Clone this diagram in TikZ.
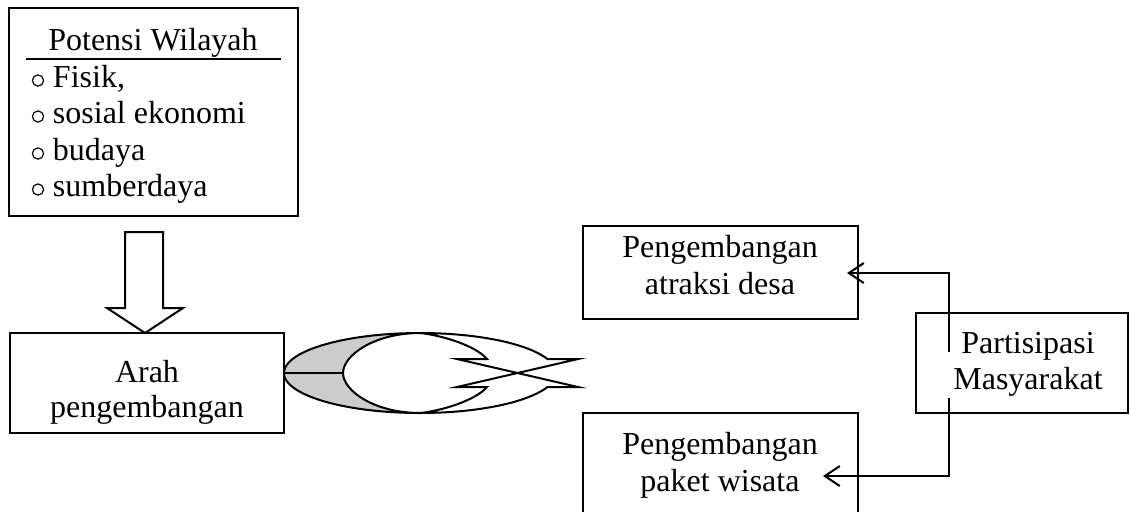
\documentclass[tikz,border=0pt]{standalone}
\usepackage{fontspec}
\setmainfont{Liberation Serif}
\usetikzlibrary{arrows.meta}
\begin{document}
\begin{tikzpicture}[x=0.5pt,y=-0.5pt,line width=1pt,
  box/.style={draw,line width=1pt,inner sep=0pt,outer sep=0pt},
  txt/.style={anchor=base,inner sep=0pt,outer sep=0pt,font=\fontsize{16}{18}\selectfont},
  bul/.style={circle,draw,line width=0.6pt,inner sep=0pt,minimum size=5.6pt},
  conn/.style={line width=1pt,-{Straight Barb[length=7.5pt,width=10pt,line width=1pt]}}]
\useasboundingbox (0,0) rectangle (1130,511);
\clip (0,0) rectangle (1130,511);

% boxes
\node[box,minimum width=144.5pt,minimum height=104pt] (potensi) at (153.5,112) {};
\node[box,minimum width=137pt,minimum height=50pt] (arah) at (147,383) {};
\node[box,minimum width=137.5pt,minimum height=46.5pt] (atraksi) at (720.5,272.5) {};
\node[box,minimum width=137.5pt,minimum height=58.5pt] (paket) at (720.5,471.5) {};
\node[box,minimum width=106pt,minimum height=50pt] (partisipasi) at (1022,363) {};

% texts
\node[txt] (tPot) at (153,50) {Potensi Wilayah};
\draw (26,59) -- (281,59);
\node[bul] (o1) at (38,80.5) {};
\node[bul] (o2) at (38,116.5) {};
\node[bul] (o3) at (38,153.5) {};
\node[bul] (o4) at (38,189.5) {};
\node[txt,anchor=base west] (t1) at (53,87) {Fisik,};
\node[txt,anchor=base west] (t2) at (53,123) {sosial ekonomi};
\node[txt,anchor=base west] (t3) at (53,160) {budaya};
\node[txt,anchor=base west] (t4) at (53,196) {sumberdaya};

\node[txt] (tArah1) at (147,382) {Arah};
\node[txt] (tArah2) at (147,417) {pengembangan};
\node[txt] (tAtr1) at (720,257) {Pengembangan};
\node[txt] (tAtr2) at (720,294) {atraksi desa};
\node[txt] (tPak1) at (720,454) {Pengembangan};
\node[txt] (tPak2) at (720,491) {paket wisata};
\node[txt] (tPar1) at (1028,353) {Partisipasi};
\node[txt] (tPar2) at (1028,389) {Masyarakat};

% block arrow
\draw[line join=miter] (125,232) -- (163,232) -- (163,308) -- (183,308) -- (145,333) -- (107,308) -- (125,308) -- cycle;

% middle shape
\fill[black!20] plot[domain=90:270,samples=60] ({420+136*cos(\x)},{373-40*sin(\x)})
  -- (420,413) .. controls (375,413) and (343,391) .. (343,373)
  .. controls (343,355) and (375,333) .. (420,333) -- cycle;
\draw[line join=miter] (457,359) -- (487,359)
  .. controls (475,345) and (440,335) .. (420,333)
  .. controls (375,333) and (343,355) .. (343,373)
  .. controls (343,391) and (375,413) .. (420,413)
  .. controls (440,411) and (475,401) .. (487,387)
  -- (457,387) -- (578,359) -- (547.4,359)
  -- plot[domain=20.5:339.5,samples=120] ({420+136*cos(\x)},{373-40*sin(\x)})
  -- (578,387) -- cycle;
\draw (284,373) -- (343,373);

% connectors
\coordinate (pUp) at (949,352);
\coordinate (aTip) at (847,273);
\coordinate (pDown) at (949,398);
\coordinate (kTip) at (823,476);
\draw[conn] (pUp) |- (aTip);
\draw[conn] (pDown) |- (kTip);
\end{tikzpicture}
\end{document}
